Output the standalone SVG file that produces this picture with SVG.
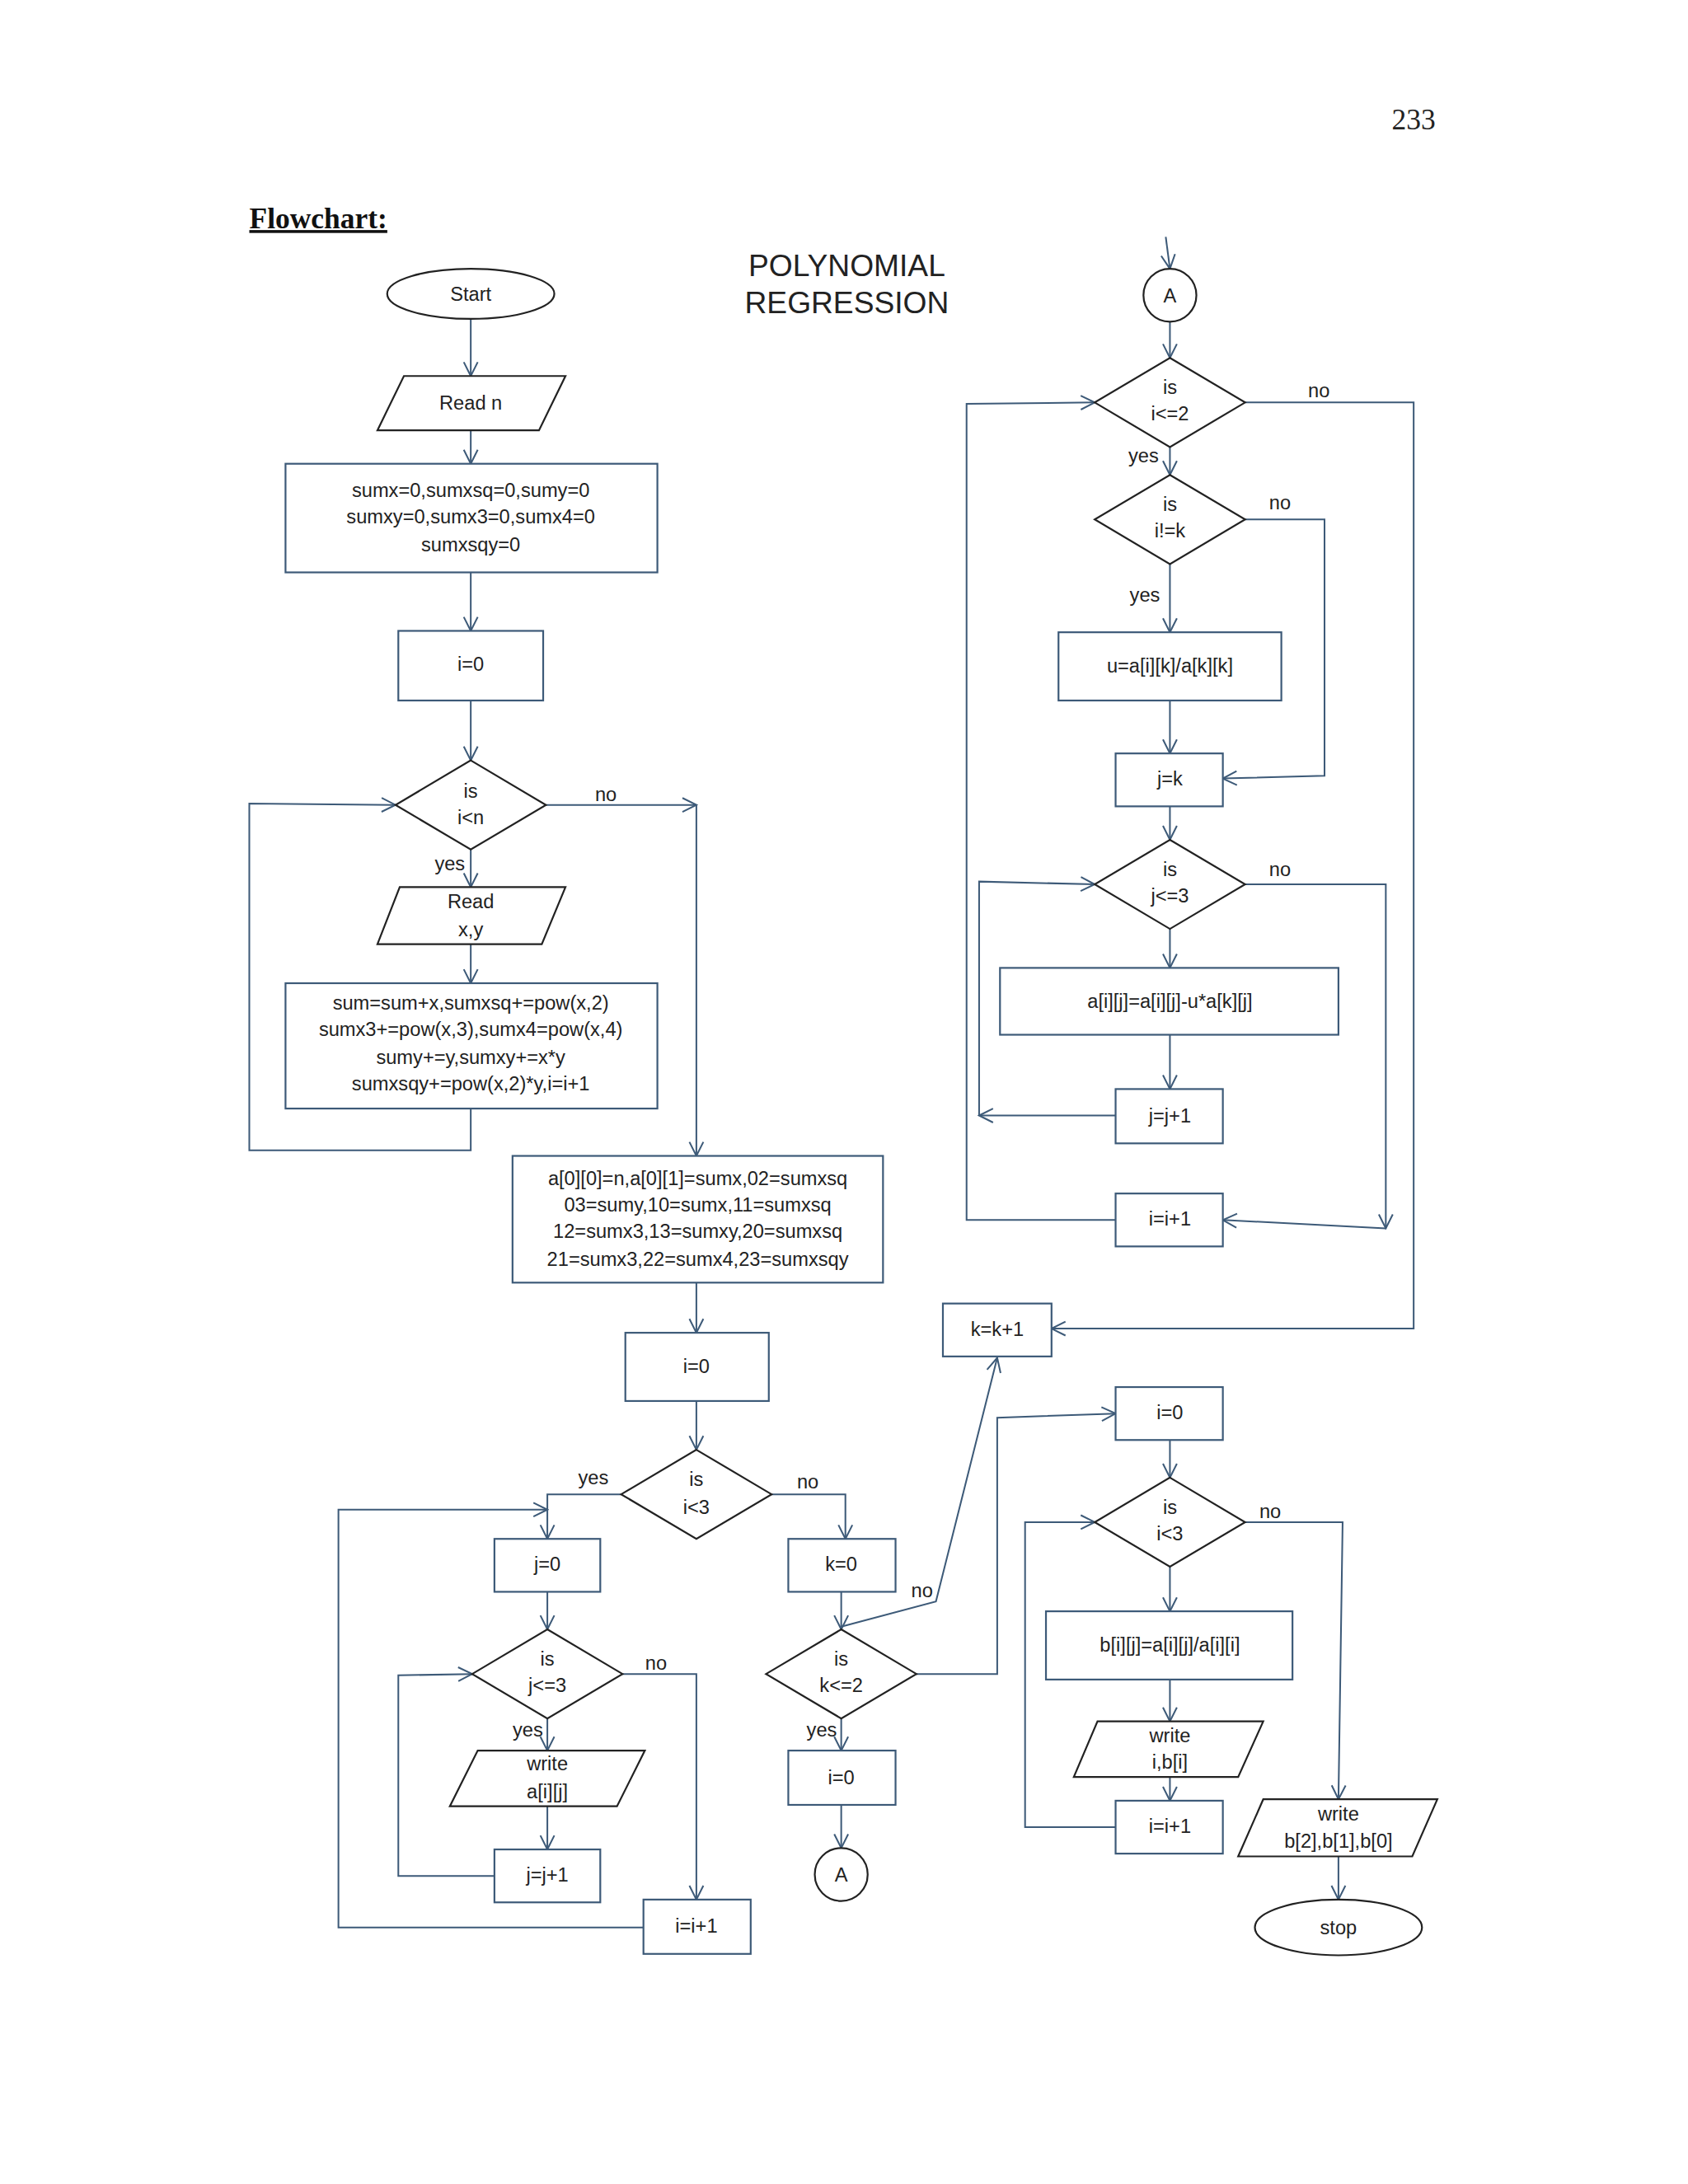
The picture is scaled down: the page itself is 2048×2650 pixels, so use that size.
<svg xmlns="http://www.w3.org/2000/svg" width="2048" height="2650" viewBox="0 0 2048 2650">
<defs>
<marker id="a" viewBox="0 0 12 12" refX="11" refY="6" markerWidth="12" markerHeight="12" markerUnits="userSpaceOnUse" orient="auto">
<path d="M1,1 L11,6 L1,11" fill="none" stroke="#3d5a78" stroke-width="1.2"/>
</marker>
<style>
.b{fill:#fff;stroke:#3d5a78;stroke-width:1.3}
.d{fill:#fff;stroke:#222;stroke-width:1.3}
.t{font-family:"Liberation Sans",Arial,sans-serif;font-size:14px;fill:#222;text-anchor:middle}
.c{fill:none;stroke:#3d5a78;stroke-width:1.2;marker-end:url(#a)}
.n{fill:none;stroke:#3d5a78;stroke-width:1.2}
</style>
</defs>
<rect width="2048" height="2650" fill="#fff"/>
<g transform="scale(1.6898)">
<text x="1015" y="93" style="font-family:'Liberation Serif',serif;font-size:21px;fill:#222" text-anchor="middle">233</text>
<text x="179" y="164" style="font-family:'Liberation Serif',serif;font-size:21px;font-weight:bold;fill:#111;text-decoration:underline">Flowchart:</text>
<text class="t" x="608" y="198" style="font-size:22px">POLYNOMIAL</text>
<text class="t" x="608" y="225" style="font-size:22px">REGRESSION</text>

<g id="connectors">
<path class="c" d="M338,229 V270"/>
<path class="c" d="M338,309 V333"/>
<path class="c" d="M338,411 V453"/>
<path class="c" d="M338,503 V546"/>
<path class="c" d="M338,610 V637"/>
<path class="c" d="M338,678 V706"/>
<path class="c" d="M338,796 V826 H179 V577 L284,578"/>
<path class="c" d="M392,578 H500"/>
<path class="c" d="M500,578 V830"/>
<path class="c" d="M500,921 V957"/>
<path class="c" d="M500,1006 V1041"/>
<path class="c" d="M446,1073 H393 V1105"/>
<path class="c" d="M462,1384 H243 V1084 H393"/>
<path class="c" d="M393,1143 V1170"/>
<path class="c" d="M393,1234 V1257"/>
<path class="c" d="M393,1297 V1328"/>
<path class="c" d="M355,1347 H286 V1203 L339,1202"/>
<path class="c" d="M447,1202 H500 V1364"/>
<path class="c" d="M554,1073 H607 V1105"/>
<path class="c" d="M604,1143 V1170"/>
<path class="c" d="M604,1168 L672,1150 L716,975"/>
<path class="c" d="M604,1234 V1257"/>
<path class="c" d="M604,1296 V1327"/>
<path class="c" d="M837,170 L840,193"/>
<path class="c" d="M840,231 V257"/>
<path class="c" d="M840,321 V341"/>
<path class="c" d="M840,405 V454"/>
<path class="c" d="M840,503 V541"/>
<path class="c" d="M840,579 V603"/>
<path class="c" d="M840,667 V695"/>
<path class="c" d="M840,743 V782"/>
<path class="c" d="M894,289 H1015 V954 H755"/>
<path class="c" d="M894,373 H951 V557 L878,559"/>
<path class="c" d="M894,635 H995 V882"/>
<path class="c" d="M995,882 L878,876"/>
<path class="c" d="M801,801 H703"/>
<path class="c" d="M703,801 V633 L786,635"/>
<path class="c" d="M801,876 H694 V290 L786,289"/>
<path class="c" d="M658,1202 H716 V1018 L801,1015"/>
<path class="c" d="M840,1034 V1061"/>
<path class="c" d="M840,1125 V1157"/>
<path class="c" d="M840,1206 V1236"/>
<path class="c" d="M840,1276 V1293"/>
<path class="c" d="M801,1312 H736 V1093 L786,1093"/>
<path class="c" d="M894,1093 H964 L961,1292"/>
<path class="c" d="M961,1333 V1364"/>
</g>

<g id="start"><ellipse class="d" cx="338" cy="211" rx="60" ry="18"/><text class="t" x="338" y="216">Start</text></g>
<g id="readn"><polygon class="d" points="290,270 406,270 387,309 271,309"/><text class="t" x="338" y="294">Read n</text></g>
<g id="init"><rect class="b" x="205" y="333" width="267" height="78"/>
<text class="t" x="338" y="357">sumx=0,sumxsq=0,sumy=0</text><text class="t" x="338" y="376">sumxy=0,sumx3=0,sumx4=0</text><text class="t" x="338" y="396">sumxsqy=0</text></g>
<g id="i0a"><rect class="b" x="286" y="453" width="104" height="50"/><text class="t" x="338" y="482">i=0</text></g>
<g id="dn"><polygon class="d" points="338,546 392,578 338,610 284,578"/><text class="t" x="338" y="573">is</text><text class="t" x="338" y="592">i&lt;n</text>
<text class="t" x="323" y="625">yes</text><text class="t" x="435" y="575">no</text></g>
<g id="readxy"><polygon class="d" points="287,637 406,637 389,678 271,678"/><text class="t" x="338" y="652">Read</text><text class="t" x="338" y="672">x,y</text></g>
<g id="sums"><rect class="b" x="205" y="706" width="267" height="90"/>
<text class="t" x="338" y="725">sum=sum+x,sumxsq+=pow(x,2)</text><text class="t" x="338" y="744">sumx3+=pow(x,3),sumx4=pow(x,4)</text><text class="t" x="338" y="764">sumy+=y,sumxy+=x*y</text><text class="t" x="338" y="783">sumxsqy+=pow(x,2)*y,i=i+1</text></g>
<g id="matrix"><rect class="b" x="368" y="830" width="266" height="91"/>
<text class="t" x="501" y="851">a[0][0]=n,a[0][1]=sumx,02=sumxsq</text><text class="t" x="501" y="870">03=sumy,10=sumx,11=sumxsq</text><text class="t" x="501" y="889">12=sumx3,13=sumxy,20=sumxsq</text><text class="t" x="501" y="909">21=sumx3,22=sumx4,23=sumxsqy</text></g>
<g id="i0b"><rect class="b" x="449" y="957" width="103" height="49"/><text class="t" x="500" y="986">i=0</text></g>
<g id="di3"><polygon class="d" points="500,1041 554,1073 500,1105 446,1073"/><text class="t" x="500" y="1067">is</text><text class="t" x="500" y="1087">i&lt;3</text>
<text class="t" x="426" y="1066">yes</text><text class="t" x="580" y="1069">no</text></g>
<g id="j0"><rect class="b" x="355" y="1105" width="76" height="38"/><text class="t" x="393" y="1128">j=0</text></g>
<g id="dj3"><polygon class="d" points="393,1170 447,1202 393,1234 339,1202"/><text class="t" x="393" y="1196">is</text><text class="t" x="393" y="1215">j&lt;=3</text>
<text class="t" x="379" y="1247">yes</text><text class="t" x="471" y="1199">no</text></g>
<g id="writeaij"><polygon class="d" points="343,1257 463,1257 443,1297 323,1297"/><text class="t" x="393" y="1271">write</text><text class="t" x="393" y="1291">a[i][j]</text></g>
<g id="jj1"><rect class="b" x="355" y="1328" width="76" height="38"/><text class="t" x="393" y="1351">j=j+1</text></g>
<g id="ii1a"><rect class="b" x="462" y="1364" width="77" height="39"/><text class="t" x="500" y="1388">i=i+1</text></g>
<g id="k0"><rect class="b" x="566" y="1105" width="77" height="38"/><text class="t" x="604" y="1128">k=0</text></g>
<g id="dk2"><polygon class="d" points="604,1170 658,1202 604,1234 550,1202"/><text class="t" x="604" y="1196">is</text><text class="t" x="604" y="1215">k&lt;=2</text>
<text class="t" x="590" y="1247">yes</text><text class="t" x="662" y="1147">no</text></g>
<g id="i0c"><rect class="b" x="566" y="1257" width="77" height="39"/><text class="t" x="604" y="1281">i=0</text></g>
<g id="A1"><circle class="d" cx="604" cy="1346" r="19"/><text class="t" x="604" y="1351">A</text></g>
<g id="kk1"><rect class="b" x="677" y="936" width="78" height="38"/><text class="t" x="716" y="959">k=k+1</text></g>

<g id="A2"><circle class="d" cx="840" cy="212" r="19"/><text class="t" x="840" y="217">A</text></g>
<g id="di2"><polygon class="d" points="840,257 894,289 840,321 786,289"/><text class="t" x="840" y="283">is</text><text class="t" x="840" y="302">i&lt;=2</text>
<text class="t" x="947" y="285">no</text><text class="t" x="821" y="332">yes</text></g>
<g id="dik"><polygon class="d" points="840,341 894,373 840,405 786,373"/><text class="t" x="840" y="367">is</text><text class="t" x="840" y="386">i!=k</text>
<text class="t" x="919" y="366">no</text><text class="t" x="822" y="432">yes</text></g>
<g id="u"><rect class="b" x="760" y="454" width="160" height="49"/><text class="t" x="840" y="483">u=a[i][k]/a[k][k]</text></g>
<g id="jk"><rect class="b" x="801" y="541" width="77" height="38"/><text class="t" x="840" y="564">j=k</text></g>
<g id="dj3b"><polygon class="d" points="840,603 894,635 840,667 786,635"/><text class="t" x="840" y="629">is</text><text class="t" x="840" y="648">j&lt;=3</text>
<text class="t" x="919" y="629">no</text></g>
<g id="aij"><rect class="b" x="718" y="695" width="243" height="48"/><text class="t" x="840" y="724">a[i][j]=a[i][j]-u*a[k][j]</text></g>
<g id="jj1b"><rect class="b" x="801" y="782" width="77" height="39"/><text class="t" x="840" y="806">j=j+1</text></g>
<g id="ii1b"><rect class="b" x="801" y="857" width="77" height="38"/><text class="t" x="840" y="880">i=i+1</text></g>

<g id="i0d"><rect class="b" x="801" y="996" width="77" height="38"/><text class="t" x="840" y="1019">i=0</text></g>
<g id="di3b"><polygon class="d" points="840,1061 894,1093 840,1125 786,1093"/><text class="t" x="840" y="1087">is</text><text class="t" x="840" y="1106">i&lt;3</text>
<text class="t" x="912" y="1090">no</text></g>
<g id="bi"><rect class="b" x="751" y="1157" width="177" height="49"/><text class="t" x="840" y="1186">b[i][j]=a[i][j]/a[i][i]</text></g>
<g id="writeb"><polygon class="d" points="788,1236 907,1236 889,1276 771,1276"/><text class="t" x="840" y="1251">write</text><text class="t" x="840" y="1270">i,b[i]</text></g>
<g id="ii1c"><rect class="b" x="801" y="1293" width="77" height="38"/><text class="t" x="840" y="1316">i=i+1</text></g>
<g id="writeall"><polygon class="d" points="907,1292 1032,1292 1014,1333 889,1333"/><text class="t" x="961" y="1307">write</text><text class="t" x="961" y="1327">b[2],b[1],b[0]</text></g>
<g id="stop"><ellipse class="d" cx="961" cy="1384" rx="60" ry="20"/><text class="t" x="961" y="1389">stop</text></g>
</g>
</svg>
